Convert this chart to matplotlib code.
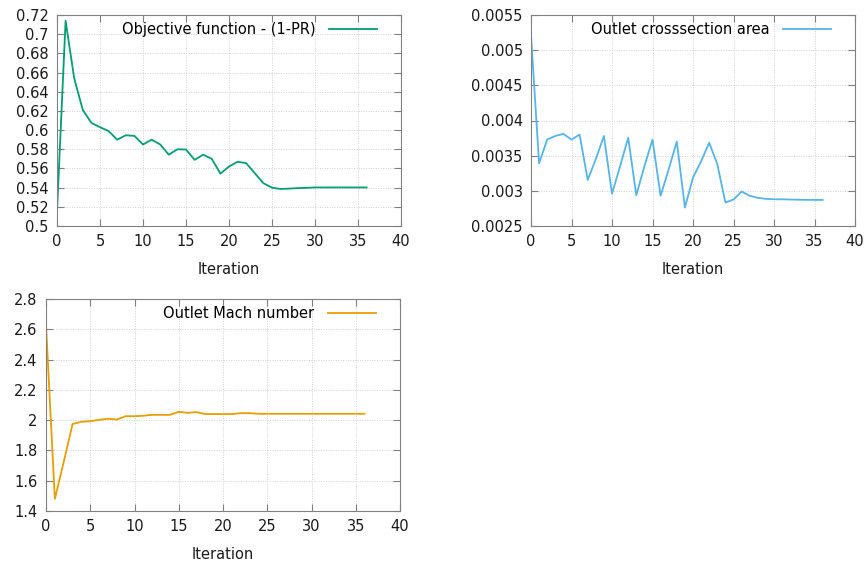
import matplotlib.pyplot as plt
import matplotlib.ticker as mticker
import numpy as np

# data
iters = list(range(37))

objective = [0.515, 0.714, 0.654, 0.621, 0.6075, 0.603, 0.599, 0.590, 0.5946, 0.594,
             0.585, 0.590, 0.585, 0.5744, 0.580, 0.5797, 0.569, 0.5744, 0.570, 0.5546,
             0.562, 0.567, 0.5655, 0.555, 0.5446, 0.540, 0.5386, 0.539, 0.5395, 0.5398,
             0.5402, 0.5402, 0.5402, 0.5402, 0.5402, 0.5402, 0.5402]

area = [0.00521, 0.00339, 0.00373, 0.00378, 0.00381, 0.003728, 0.0038, 0.003155, 0.00345, 0.00378,
        0.00296, 0.00335, 0.003756, 0.002937, 0.00335, 0.003728, 0.00293, 0.003306, 0.0037, 0.002763,
        0.003188, 0.00342, 0.003685, 0.003378, 0.002834, 0.002876, 0.00299, 0.00293, 0.0029, 0.002886,
        0.00288, 0.00288, 0.002876, 0.002874, 0.002872, 0.002871, 0.002871]

mach = [2.63, 1.48, 1.723, 1.974, 1.989, 1.993, 2.002, 2.009, 2.004, 2.026,
        2.026, 2.029, 2.035, 2.035, 2.035, 2.055, 2.048, 2.053, 2.04, 2.04,
        2.04, 2.04, 2.046, 2.046, 2.042, 2.042, 2.042, 2.042, 2.042, 2.042,
        2.042, 2.042, 2.042, 2.042, 2.042, 2.042, 2.042]

W, H = 868, 566
fig = plt.figure(figsize=(W / 100, H / 100), dpi=100)


def make_axes(x0, y0, x1, y1):
    # pixel box (left, top, right, bottom) -> figure fraction
    ax = fig.add_axes([x0 / W, 1 - y1 / H, (x1 - x0) / W, (y1 - y0) / H])
    ax.width_px = x1 - x0
    return ax


def style(ax, ylo, yhi, ystep, label, xs, ys, color):
    ax.plot(xs, ys, color=color, lw=1.3, label=label)
    ax.set_xlim(0, 40)
    ax.set_ylim(ylo, yhi)
    ax.xaxis.set_major_locator(mticker.MultipleLocator(5))
    ax.yaxis.set_major_locator(mticker.MultipleLocator(ystep))
    ax.yaxis.set_major_formatter(mticker.FuncFormatter(lambda v, p: '%g' % round(v, 6)))
    ax.grid(True, ls=(0, (1, 1.5)), color='#d0d0d0', lw=0.7)
    ax.tick_params(direction='in', top=True, right=True, length=5, color='#808080',
                   labelsize=10.5, labelcolor='#1a1a1a', pad=6)
    for s in ax.spines.values():
        s.set_color('#808080')
    ax.set_xlabel('Iteration', fontsize=10.5, color='#1a1a1a', labelpad=9)
    ax.legend(loc='upper right', bbox_to_anchor=(1 - 17 / ax.width_px, 1),
              frameon=False, markerfirst=False, fontsize=10.5,
              handlelength=3.3, borderaxespad=0.1, handletextpad=0.9)


ax1 = make_axes(57, 15, 401, 226)
style(ax1, 0.5, 0.72, 0.02, 'Objective function - (1-PR)', iters, objective, '#009e73')

ax2 = make_axes(531, 15, 855, 226)
style(ax2, 0.0025, 0.0055, 0.0005, 'Outlet crosssection area', iters, area, '#56b4e9')

ax3 = make_axes(46, 299, 400, 511)
style(ax3, 1.4, 2.8, 0.2, 'Outlet Mach number', iters, mach, '#e69f00')

fig.savefig('out.png', dpi=100)
